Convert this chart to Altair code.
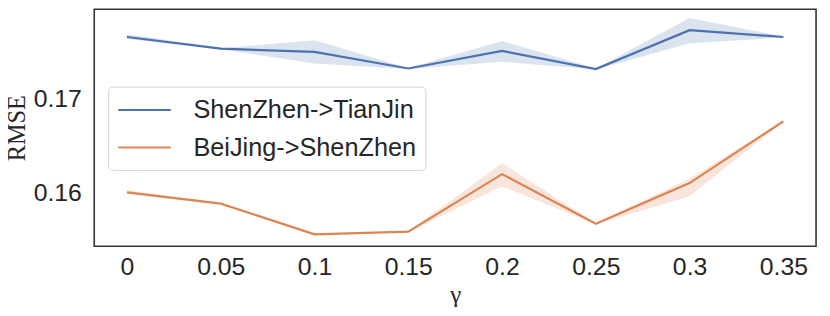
import altair as alt
import pandas as pd

gamma = [0, 0.05, 0.1, 0.15, 0.2, 0.25, 0.3, 0.35]
series_names = ["ShenZhen->TianJin", "BeiJing->ShenZhen"]

sz_tj_mean = [0.17653, 0.17529, 0.17495, 0.17319, 0.17505, 0.17313, 0.17726, 0.17653]
sz_tj_low = [0.17632, 0.17524, 0.17372, 0.17314, 0.17389, 0.17308, 0.17586, 0.17648]
sz_tj_high = [0.17684, 0.17534, 0.17618, 0.17324, 0.17611, 0.17318, 0.17856, 0.17658]

bj_sz_mean = [0.16003, 0.15884, 0.15558, 0.15586, 0.16197, 0.15670, 0.16102, 0.16758]
bj_sz_low = [0.15985, 0.15879, 0.15553, 0.15581, 0.16067, 0.15665, 0.15961, 0.16753]
bj_sz_high = [0.16025, 0.15889, 0.15563, 0.15591, 0.16313, 0.15675, 0.16150, 0.16763]

colors = ["#4c72b0", "#dd8452"]

rows = []
for name, m, lo, hi in [
    (series_names[0], sz_tj_mean, sz_tj_low, sz_tj_high),
    (series_names[1], bj_sz_mean, bj_sz_low, bj_sz_high),
]:
    for g, a, b, c in zip(gamma, m, lo, hi):
        rows.append({"gamma": g, "series": name, "rmse": a, "low": b, "high": c})
df = pd.DataFrame(rows)

xscale = alt.Scale(domain=[-0.01744, 0.36744], nice=False, zero=False)
yscale = alt.Scale(domain=[0.154316, 0.179474], nice=False, zero=False)
cscale = alt.Scale(domain=series_names, range=colors)

x_axis = alt.Axis(
    values=gamma, format="~g", title="γ", grid=False, ticks=False, domain=False,
    labelFont="Liberation Sans", labelFontSize=25, labelColor="#262626", labelPadding=9,
    titleFont="Liberation Serif", titleFontSize=25, titleFontWeight="normal",
    titleColor="#262626", titleBaseline="alphabetic", titleY=57,
)
y_axis = alt.Axis(
    values=[0.16, 0.17], format=".2f", title="RMSE", grid=False, ticks=False, domain=False,
    labelFont="Liberation Sans", labelFontSize=25, labelColor="#262626", labelPadding=13,
    titleFont="Liberation Serif", titleFontSize=24.5, titleFontWeight="normal",
    titleColor="#262626", titleBaseline="alphabetic", titleX=-70, titleAngle=-90,
)

legend = alt.Legend(
    title=None, orient="none", legendX=14, legendY=78,
    symbolType="M-1,0H3", symbolSize=702, symbolStrokeWidth=2, symbolOpacity=1,
    symbolFillColor="transparent",
    labelFont="Liberation Sans", labelFontSize=25.5, labelColor="#262626", labelLimit=500,
    labelOffset=48, padding=9, fillColor="white", strokeColor="#d6d6d6",
    cornerRadius=4, rowPadding=10,
)

base = alt.Chart(df)

band = base.mark_area(opacity=0.2).encode(
    x=alt.X("gamma:Q", scale=xscale, axis=x_axis),
    y=alt.Y("low:Q", scale=yscale, axis=y_axis),
    y2="high:Q",
    color=alt.Color("series:N", scale=cscale, sort=series_names, legend=legend),
    detail="series:N",
)

line = base.mark_line(strokeWidth=2.2).encode(
    x=alt.X("gamma:Q", scale=xscale),
    y=alt.Y("rmse:Q", scale=yscale),
    color=alt.Color("series:N", scale=cscale, sort=series_names, legend=legend),
)

chart = (
    alt.layer(band, line)
    .properties(
        width=728, height=239,
        autosize=alt.AutoSizeParams(type="none"),
        padding={"left": 87, "top": 0, "right": 6, "bottom": 60},
    )
    .configure_view(stroke="#333333", strokeWidth=1.6)
)

chart.save("out.html", embed_options={"renderer": "svg", "actions": False})
